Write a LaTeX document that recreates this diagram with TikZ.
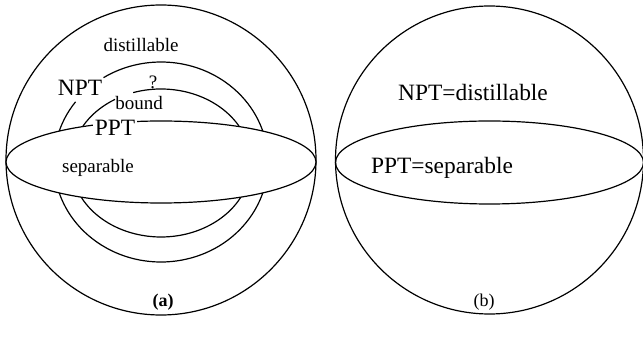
\documentclass[tikz,border=0pt]{standalone}
\usepackage{fontspec}
\setmainfont{Liberation Serif}
\begin{document}
\begin{tikzpicture}[x=0.5pt,y=0.5pt,line width=0.6pt,
  sm/.style={font=\fontsize{9.5}{11}\selectfont,inner sep=0pt},
  lg/.style={font=\fontsize{11.7}{14}\selectfont,inner sep=0pt}]
\useasboundingbox (0,0) rectangle (643,364);
% (a) nested sets
\coordinate (ca) at (161,204);
\draw (ca) circle[radius=155];
\draw (75.55,262.18) arc[start angle=143,end angle=482.5,x radius=107,y radius=100];
\draw (115.05,264.63) arc[start angle=120.7,end angle=468,x radius=90,y radius=74];
\draw[fill=white] (161,202) ellipse[x radius=155,y radius=41];
\node[sm](dist) at (141,319) {distillable};
\node[lg](npt) at (80,276) {NPT};
\node[sm](qm) at (153,282) {?};
\node[sm](bnd) at (139,261) {bound};
\node[lg,fill=white,inner sep=1pt](ppt) at (115,236) {PPT};
\node[sm](sep) at (98,196) {separable};
\node[sm,font=\fontsize{9}{11}\selectfont\bfseries](capa) at (163,62) {(a)};
% (b) two sets
\coordinate (cb) at (489.5,204);
\draw (cb) circle[radius=154];
\draw (489.5,201.5) ellipse[x radius=154,y radius=41.5];
\node[lg](nptb) at (473,271) {NPT=distillable};
\node[lg](pptb) at (442,196) {PPT=separable};
\node[sm,font=\fontsize{9}{11}\selectfont](capb) at (484,62) {(b)};
\end{tikzpicture}
\end{document}
